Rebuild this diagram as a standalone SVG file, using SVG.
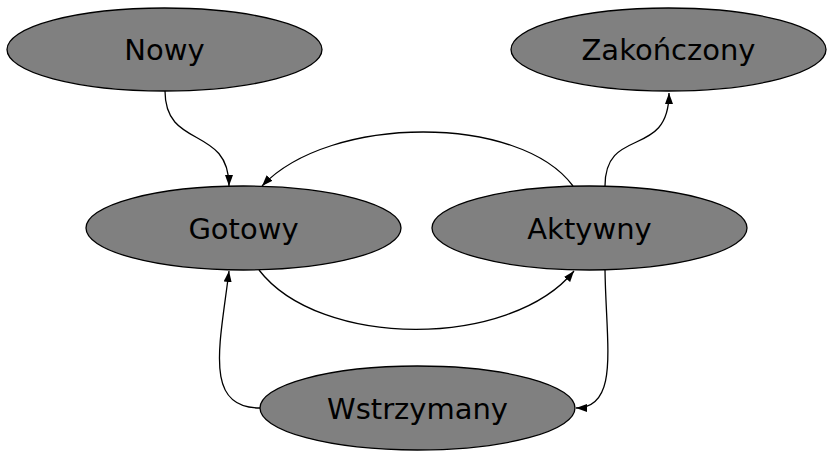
<svg xmlns="http://www.w3.org/2000/svg" width="835" height="472" viewBox="0 0 835 472">
<defs>
<style>
.node ellipse{fill:#808080;stroke:#000;stroke-width:1.3}
.node text{font-family:"DejaVu Sans",sans-serif;font-size:29px;fill:#000;text-anchor:middle}
.edge{fill:none;stroke:#000;stroke-width:1.3;marker-end:url(#ah)}
</style>
<marker id="ah" viewBox="0 0 11 8" refX="11" refY="4" markerWidth="11" markerHeight="8" markerUnits="userSpaceOnUse" orient="auto">
<path d="M0,0 L11,4 L0,8 z" fill="#000"/>
</marker>
</defs>
<rect width="835" height="472" fill="#fff"/>
<g id="connectors">
<path class="edge" d="M165,91 C165,150 229,125 229,186"/>
<path class="edge" d="M605,186 C605,125 669,160 669,93"/>
<path class="edge" d="M573,186 C520,114 330,114 262,186"/>
<path class="edge" d="M259,270 C320,349 510,349 574,271"/>
<path class="edge" d="M260,408 C203,408 220,345 229,271"/>
<path class="edge" d="M605,270 C606,345 620,408 576,408"/>
</g>
<g id="nowy" class="node"><ellipse cx="164.5" cy="49.5" rx="157.5" ry="41.5"/><text x="164.5" y="60">Nowy</text></g>
<g id="zakonczony" class="node"><ellipse cx="668.5" cy="49.5" rx="157.5" ry="41.5"/><text x="668.5" y="60">Zakończony</text></g>
<g id="gotowy" class="node"><ellipse cx="243.5" cy="228" rx="157.5" ry="42"/><text x="243.5" y="239">Gotowy</text></g>
<g id="aktywny" class="node"><ellipse cx="589.5" cy="228" rx="157.5" ry="42"/><text x="589.5" y="239">Aktywny</text></g>
<g id="wstrzymany" class="node"><ellipse cx="417.5" cy="408" rx="157.5" ry="42"/><text x="417.5" y="419">Wstrzymany</text></g>
</svg>
